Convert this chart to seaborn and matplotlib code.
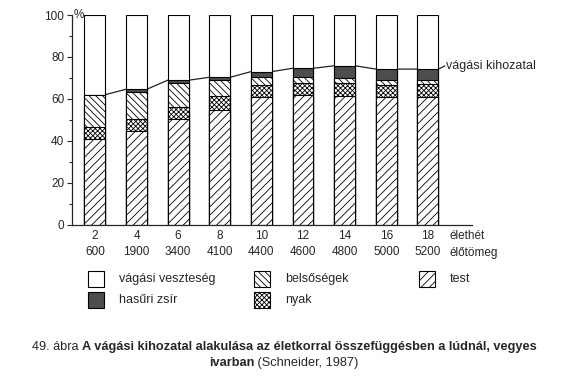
import numpy as np
import pandas as pd
import matplotlib
matplotlib.use("Agg")
import matplotlib.pyplot as plt
import seaborn as sns
from matplotlib.patches import Rectangle
from matplotlib.transforms import blended_transform_factory

# data (percent of live weight)
weeks = [2, 4, 6, 8, 10, 12, 14, 16, 18]
live_weight = [600, 1900, 3400, 4100, 4400, 4600, 4800, 5000, 5200]
test = [41, 44.7, 50.5, 54.7, 60.7, 61.8, 61.5, 60.7, 60.7]
nyak = [5.4, 5.8, 5.5, 6.8, 5.8, 5.6, 6.2, 5.9, 6.3]
belsosegek = [15.4, 12.9, 11.4, 7.4, 3.8, 2.9, 2.4, 2.4, 2.0]
hasuri_zsir = [0.2, 1.2, 1.5, 1.4, 2.7, 4.3, 5.7, 5.2, 5.2]

sns.set_style("ticks")
plt.rcParams["font.family"] = ["Liberation Sans", "DejaVu Sans"]
plt.rcParams["hatch.linewidth"] = 0.6
plt.rcParams["hatch.color"] = "black"

df = pd.DataFrame({"het": [str(w) for w in weeks], "test": test, "nyak": nyak,
                   "belso": belsosegek, "zsir": hasuri_zsir})
# cumulative heights, bottom to top
df["c_test"] = df["test"]
df["c_nyak"] = df["c_test"] + df["nyak"]
df["c_belso"] = df["c_nyak"] + df["belso"]
df["c_zsir"] = df["c_belso"] + df["zsir"]
df["c_all"] = 100.0

W, H = 570, 389
fig = plt.figure(figsize=(W / 100, H / 100), dpi=100)
ax = fig.add_axes([72 / W, 1 - 224.7 / H, 400 / W, 209.7 / H])

FAT = "#4d4d4d"
H_BELSO = "\\\\\\\\\\"
H_NYAK = "xxxxxxx"
H_TEST = "////"

layers = [
    ("c_all", "white", ""),
    ("c_zsir", FAT, ""),
    ("c_belso", "white", H_BELSO),
    ("c_nyak", "white", H_NYAK),
    ("c_test", "white", H_TEST),
]
for col, color, hatch in layers:
    sns.barplot(data=df, x="het", y=col, color=color, saturation=1, width=0.5,
                edgecolor="black", linewidth=0.8, hatch=hatch, errorbar=None, ax=ax)

# slaughter yield line joining the bar tops
pos = np.arange(len(weeks))
xs = np.column_stack([pos - 0.25, pos + 0.25]).ravel()
ys = np.repeat(df["c_zsir"].values, 2)
xs = np.append(xs, 8.41)
ys = np.append(ys, ys[-1] + 1.5)
ax.plot(xs, ys, color="#222222", lw=0.9, zorder=0.5, clip_on=False)
ax.text(8.44, ys[-1], "vágási kihozatal", fontsize=9, va="center", ha="left")

ax.set_xlim(-0.55, 9.06)
ax.set_ylim(0, 100)
ax.set_xlabel("")
ax.set_ylabel("")
ax.set_yticks([0, 20, 40, 60, 80, 100])
ax.set_yticks(np.arange(10, 100, 20), minor=True)
ax.tick_params(axis="y", which="major", length=3.5, width=0.8, labelsize=8.5, pad=2)
ax.tick_params(axis="y", which="minor", length=2.5, width=0.8)
ax.set_xticks(pos)
ax.set_xticklabels([f"{w}\n{m}" for w, m in zip(weeks, live_weight)],
                   fontsize=8.5, linespacing=1.45)
ax.tick_params(axis="x", length=0, pad=4)
sns.despine(ax=ax)
for s in ["left", "bottom"]:
    ax.spines[s].set_linewidth(0.9)

ax.annotate("%", xy=(0, 100), xycoords=("axes fraction", "data"), xytext=(1, 0),
            textcoords="offset points", va="center", fontsize=8.5)
tr = blended_transform_factory(ax.transData, fig.transFigure)
ax.text(8.51, 1 - 236 / H, "élethét", transform=tr, fontsize=8.5, va="center")
ax.text(8.51, 1 - 253 / H, "élőtömeg", transform=tr, fontsize=8.5, va="center")

# legend, two rows
legend_items = [
    ("vágási veszteség", "white", "", 88, 279),
    ("belsőségek", "white", H_BELSO, 254, 279),
    ("test", "white", H_TEST, 419, 279),
    ("hasűri zsír", FAT, "", 88, 300),
    ("nyak", "white", H_NYAK, 254, 300),
]
for label, color, hatch, px, py in legend_items:
    fig.add_artist(Rectangle((px / W, 1 - (py + 8) / H), 16 / W, 16 / H,
                             transform=fig.transFigure, facecolor=color,
                             edgecolor="black", linewidth=0.8, hatch=hatch))
    fig.text((px + 31) / W, 1 - py / H, label, fontsize=9, va="center")

# caption with mixed bold / normal text, centred
fig.canvas.draw()
renderer = fig.canvas.get_renderer()


def caption_line(parts, y, cx=284):
    texts = [fig.text(0, 1 - y / H, s, fontsize=9.2, weight=w, va="center")
             for s, w in parts]
    widths = [t.get_window_extent(renderer).width for t in texts]
    x = cx - sum(widths) / 2
    for t, wd in zip(texts, widths):
        t.set_x(x / W)
        x += wd


caption_line([("49. ábra ", "normal"),
              ("A vágási kihozatal alakulása az életkorral összefüggésben a lúdnál, vegyes", "bold")], 347)
caption_line([("ivarban", "bold"), (" (Schneider, 1987)", "normal")], 363)

fig.savefig("out.png", dpi=100)
